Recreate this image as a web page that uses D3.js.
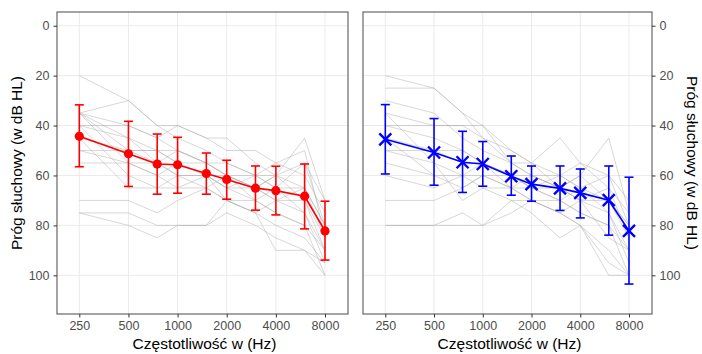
<!DOCTYPE html>
<html>
<head>
<meta charset="utf-8">
<script src="https://cdn.jsdelivr.net/npm/d3@7"></script>
<style>
  body { margin: 0; background: #fff; }
  svg { font-family: "Liberation Sans", Arial, sans-serif; }
</style>
</head>
<body>
<script>
// frequencies (Hz) and tick labels
var freqs = [250, 500, 750, 1000, 1500, 2000, 3000, 4000, 6000, 8000];
var xTicks = [250, 500, 1000, 2000, 4000, 8000];
var yTicks = [0, 20, 40, 60, 80, 100];

// left panel: mean threshold and error bar ends (dB HL)
var leftMean = [44.3, 51.3, 55.4, 55.7, 59.2, 61.6, 65.1, 66.1, 68.3, 82.2];
var leftLow  = [31.7, 38.3, 43.4, 44.7, 51.0, 53.9, 56.2, 56.3, 55.4, 70.3];
var leftHigh = [56.5, 64.4, 67.5, 67.1, 67.5, 69.5, 73.9, 75.8, 81.4, 93.9];

// right panel
var rightMean = [45.5, 50.8, 54.7, 55.4, 60.3, 63.5, 65.2, 67.0, 69.9, 82.2];
var rightLow  = [31.6, 37.2, 42.3, 46.4, 52.2, 56.2, 56.2, 57.4, 56.2, 60.7];
var rightHigh = [59.4, 63.9, 66.8, 64.3, 67.9, 70.3, 74.0, 77.0, 83.9, 103.5];

// individual audiograms (grey background lines), values at freqs
var leftSubjects = [
  [20, 30, 40, 40, 45, 45, 55, 60, 45, 70],
  [35, 30, 40, 45, 50, 55, 60, 55, 50, 85],
  [35, 40, 45, 40, 45, 50, 50, 55, 60, 75],
  [35, 45, 50, 50, 55, 60, 60, 60, 55, 80],
  [35, 50, 50, 55, 55, 55, 60, 65, 65, 80],
  [35, 55, 60, 55, 60, 60, 65, 60, 70, 85],
  [40, 40, 45, 50, 55, 60, 65, 70, 70, 90],
  [45, 50, 55, 50, 55, 60, 70, 65, 75, 95],
  [50, 50, 50, 55, 60, 65, 65, 70, 65, 80],
  [55, 55, 55, 60, 60, 65, 70, 75, 80, 100],
  [40, 60, 65, 65, 65, 70, 70, 75, 80, 90],
  [45, 65, 65, 60, 60, 70, 75, 80, 85, 95],
  [70, 70, 75, 70, 65, 70, 75, 90, 90, 100],
  [75, 75, 80, 80, 80, 70, 75, 70, 75, 90],
  [75, 80, 85, 80, 80, 75, 80, 85, 90, 95],
  [40, 45, 55, 60, 65, 60, 65, 60, 65, 85],
  [50, 55, 60, 65, 60, 65, 60, 65, 55, 70]
];
var rightSubjects = [
  [20, 25, 35, 45, 50, 55, 60, 55, 65, 75],
  [25, 25, 35, 40, 50, 55, 45, 55, 60, 70],
  [30, 35, 45, 50, 55, 60, 60, 65, 60, 80],
  [35, 40, 40, 40, 55, 55, 65, 60, 45, 75],
  [40, 40, 40, 45, 55, 60, 65, 60, 70, 80],
  [40, 45, 50, 55, 60, 60, 65, 70, 65, 85],
  [45, 50, 55, 55, 60, 65, 65, 70, 75, 90],
  [50, 50, 50, 55, 60, 65, 70, 65, 70, 85],
  [50, 55, 60, 55, 65, 65, 60, 65, 75, 95],
  [55, 60, 60, 60, 65, 70, 70, 75, 80, 100],
  [45, 60, 65, 60, 60, 65, 70, 75, 80, 90],
  [70, 70, 65, 60, 65, 70, 75, 70, 85, 90],
  [80, 80, 75, 80, 70, 75, 85, 80, 100, 100],
  [80, 80, 80, 80, 75, 70, 75, 80, 90, 100],
  [35, 55, 70, 65, 70, 70, 75, 80, 95, 100],
  [60, 65, 60, 65, 65, 60, 65, 70, 70, 80]
];

var W = 702, H = 354;
var panelTop = 12, panelBottom = 314;
var xTitle = 'Częstotliwość w (Hz)';
var yTitle = 'Próg słuchowy (w dB HL)';

var svg = d3.select('body').append('svg')
            .attr('width', W)
            .attr('height', H);

var yScale = d3.scaleLinear().domain([-5.5, 115.5]).range([panelTop, panelBottom]);

function drawPanel(opts) {
  var x0 = opts.x0, x1 = opts.x1;
  var xScale = d3.scaleLog().base(2).domain([250, 8000]).range([x0 + 22.3, x1 - 23]);
  var g = svg.append('g');

  // grid
  g.selectAll('.hgrid').data(yTicks).enter().append('line')
   .attr('x1', x0).attr('x2', x1)
   .attr('y1', function(d) { return yScale(d); })
   .attr('y2', function(d) { return yScale(d); })
   .attr('stroke', '#ebebeb').attr('stroke-width', 1);
  g.selectAll('.vgrid').data(xTicks).enter().append('line')
   .attr('y1', panelTop).attr('y2', panelBottom)
   .attr('x1', function(d) { return xScale(d); })
   .attr('x2', function(d) { return xScale(d); })
   .attr('stroke', '#ebebeb').attr('stroke-width', 1);

  var line = d3.line()
               .x(function(d, i) { return xScale(freqs[i]); })
               .y(function(d) { return yScale(d); });

  // individual subjects
  g.selectAll('.subj').data(opts.subjects).enter().append('path')
   .attr('d', line)
   .attr('fill', 'none')
   .attr('stroke', '#b0b0b0')
   .attr('stroke-opacity', 0.5)
   .attr('stroke-width', 1);

  // error bars
  var eb = g.selectAll('.eb').data(freqs).enter().append('g')
            .attr('stroke', opts.color).attr('stroke-width', 1.6);
  eb.append('line')
    .attr('x1', function(d) { return xScale(d); })
    .attr('x2', function(d) { return xScale(d); })
    .attr('y1', function(d, i) { return yScale(opts.low[i]); })
    .attr('y2', function(d, i) { return yScale(opts.high[i]); });
  eb.append('line')
    .attr('x1', function(d) { return xScale(d) - 4.5; })
    .attr('x2', function(d) { return xScale(d) + 4.5; })
    .attr('y1', function(d, i) { return yScale(opts.low[i]); })
    .attr('y2', function(d, i) { return yScale(opts.low[i]); });
  eb.append('line')
    .attr('x1', function(d) { return xScale(d) - 4.5; })
    .attr('x2', function(d) { return xScale(d) + 4.5; })
    .attr('y1', function(d, i) { return yScale(opts.high[i]); })
    .attr('y2', function(d, i) { return yScale(opts.high[i]); });

  // mean line
  g.append('path')
   .datum(opts.mean)
   .attr('d', line)
   .attr('fill', 'none')
   .attr('stroke', opts.color)
   .attr('stroke-width', 1.7);

  // points
  if (opts.shape == 'circle') {
    g.selectAll('.pt').data(opts.mean).enter().append('circle')
     .attr('cx', function(d, i) { return xScale(freqs[i]); })
     .attr('cy', function(d) { return yScale(d); })
     .attr('r', 4.6)
     .attr('fill', opts.color);
  } else {
    var s = 6;
    g.selectAll('.pt').data(opts.mean).enter().append('path')
     .attr('d', function(d, i) {
       var cx = xScale(freqs[i]), cy = yScale(d);
       return 'M' + (cx - s) + ',' + (cy - s) + 'L' + (cx + s) + ',' + (cy + s) +
              'M' + (cx - s) + ',' + (cy + s) + 'L' + (cx + s) + ',' + (cy - s);
     })
     .attr('stroke', opts.color)
     .attr('stroke-width', 2.4);
  }

  // border
  g.append('rect')
   .attr('x', x0).attr('y', panelTop)
   .attr('width', x1 - x0).attr('height', panelBottom - panelTop)
   .attr('fill', 'none').attr('stroke', '#595959').attr('stroke-width', 1.1);

  // x axis
  var xAxis = d3.axisBottom(xScale).tickValues(xTicks).tickFormat(d3.format('d'))
                .tickSizeInner(3.5).tickSizeOuter(0).tickPadding(4);
  var xa = g.append('g').attr('transform', 'translate(0,' + panelBottom + ')').call(xAxis);
  xa.select('.domain').remove();
  xa.selectAll('line').attr('stroke', '#333');
  xa.selectAll('text').attr('fill', '#4d4d4d').style('font-size', '12.5px')
    .style('font-family', '"Liberation Sans", Arial, sans-serif');

  // y axis
  var yAxis = (opts.side == 'left' ? d3.axisLeft(yScale) : d3.axisRight(yScale))
                .tickValues(yTicks).tickSizeInner(3.5).tickSizeOuter(0).tickPadding(4);
  var ya = g.append('g').attr('transform', 'translate(' + (opts.side == 'left' ? x0 : x1) + ',0)').call(yAxis);
  ya.select('.domain').remove();
  ya.selectAll('line').attr('stroke', '#333');
  ya.selectAll('text').attr('fill', '#4d4d4d').style('font-size', '12.5px')
    .style('font-family', '"Liberation Sans", Arial, sans-serif');

  // titles
  g.append('text')
   .attr('x', (x0 + x1) / 2 + 2)
   .attr('y', 349)
   .attr('text-anchor', 'middle')
   .style('font-size', '15.5px')
   .attr('fill', '#000')
   .text(xTitle);

  var tx = opts.side == 'left' ? 17 : 692;
  g.append('text')
   .attr('text-anchor', 'middle')
   .attr('dy', '0.35em')
   .attr('transform', 'translate(' + tx + ',' + ((panelTop + panelBottom) / 2) + ')rotate(' + (opts.side == 'left' ? -90 : 90) + ')')
   .style('font-size', '15.5px')
   .attr('fill', '#000')
   .text(yTitle);
}

drawPanel({x0: 57, x1: 348, side: 'left', color: '#ff0000', shape: 'circle',
           mean: leftMean, low: leftLow, high: leftHigh, subjects: leftSubjects});
drawPanel({x0: 363, x1: 652, side: 'right', color: '#0000ff', shape: 'cross',
           mean: rightMean, low: rightLow, high: rightHigh, subjects: rightSubjects});
</script>
</body>
</html>
